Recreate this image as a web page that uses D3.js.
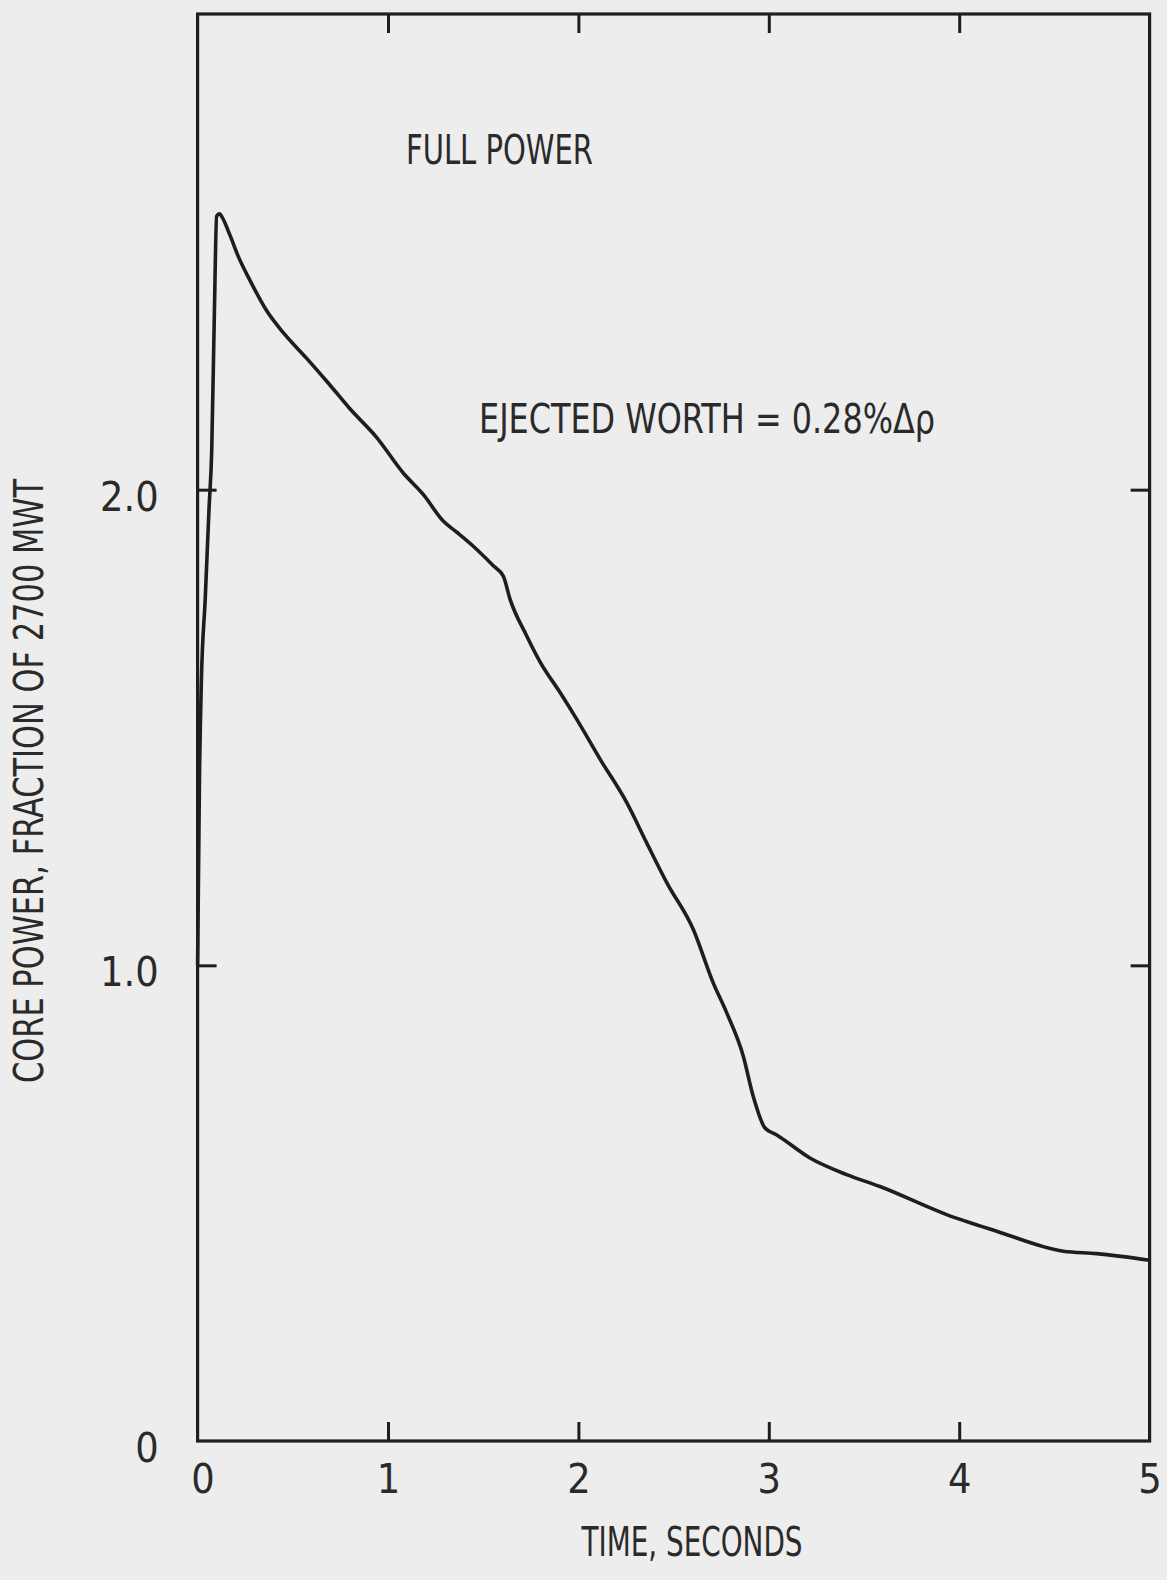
<!DOCTYPE html>
<html>
<head>
<meta charset="utf-8">
<script src="https://cdn.jsdelivr.net/npm/d3@7"></script>
<style>
    html, body { margin: 0; padding: 0; background: #ededed; }
    svg { display: block; }
    text { font-family: "DejaVu Sans Condensed", "DejaVu Sans", sans-serif; font-stretch: condensed; fill: #2a2a2a; }
</style>
</head>
<body>
<svg width="1167" height="1580"></svg>
<script>
// Данные кривой: время, с и мощность активной зоны (доля от 2700 МВт)
const timeSec = [0, 0.01, 0.02, 0.04, 0.06, 0.074, 0.088, 0.1, 0.115, 0.13, 0.17, 0.214, 0.275, 0.363, 0.45,
                 0.573, 0.695, 0.80, 0.94, 1.08, 1.185, 1.29, 1.36, 1.448, 1.553, 1.606, 1.64, 1.728, 1.80,
                 1.903, 1.99, 2.113, 2.254, 2.358, 2.464, 2.603, 2.708, 2.779, 2.866, 2.918, 2.98, 3.04,
                 3.216, 3.409, 3.584, 3.934, 4.197, 4.547, 4.722, 5.0];
const corePower = [1.0, 1.4, 1.6, 1.77, 1.96, 2.08, 2.37, 2.575, 2.58, 2.572, 2.535, 2.49, 2.44, 2.376, 2.33,
                   2.276, 2.22, 2.17, 2.11, 2.035, 1.99, 1.934, 1.911, 1.881, 1.84, 1.818, 1.771, 1.693, 1.637,
                   1.574, 1.518, 1.434, 1.342, 1.258, 1.174, 1.076, 0.963, 0.9, 0.809, 0.725, 0.658, 0.644,
                   0.595, 0.56, 0.535, 0.476, 0.441, 0.399, 0.394, 0.38];

// Подписи осей
const xTickLabels = [0, 1, 2, 3, 4, 5];
const yTickLabels = [0, 1, 2];
const xTickMarks = [1, 2, 3, 4];
const yTickMarks = [1, 2];

const svg = d3.select("svg");

const attr_area = { left: 197.6, right: 1149.6, top: 14, bottom: 1441 };

// Шкалы
const scaleX = d3.scaleLinear().domain([0, 5]).range([attr_area.left, attr_area.right]);
const scaleY = d3.scaleLinear().domain([0, 3]).range([attr_area.bottom, attr_area.top]);

const ink = "#1e1e1e";
const tickLen = 19;

// Подписи делений снизу
svg.append("g")
    .attr("transform", `translate(0, ${attr_area.bottom})`)
    .call(d3.axisBottom(scaleX).tickValues(xTickLabels).tickSize(0).tickPadding(23).tickFormat(d3.format("d")))
    .call(g => g.select(".domain").remove())
    .selectAll("text")
    .attr("font-size", 41)
    .attr("dx", d => d === 0 ? 5 : 0)
    .attr("fill", "#2a2a2a");

// Подписи делений слева
svg.append("g")
    .attr("transform", `translate(${attr_area.left}, 0)`)
    .call(d3.axisLeft(scaleY).tickValues(yTickLabels).tickSize(0).tickPadding(39)
        .tickFormat(d => d === 0 ? "0" : d3.format(".1f")(d)))
    .call(g => g.select(".domain").remove())
    .selectAll("text")
    .attr("font-size", 41)
    .attr("dy", "0.5em")
    .attr("fill", "#2a2a2a");

svg.selectAll("g").attr("font-family", null);

// Засечки внутрь рамки со всех четырёх сторон
function innerTicks(axis, transform) {
    svg.append("g")
        .attr("transform", transform)
        .call(axis.tickSize(-tickLen).tickFormat(""))
        .call(g => g.select(".domain").remove())
        .selectAll("line")
        .attr("stroke", ink)
        .attr("stroke-width", 3);
}
innerTicks(d3.axisBottom(scaleX).tickValues(xTickMarks), `translate(0, ${attr_area.bottom})`);
innerTicks(d3.axisTop(scaleX).tickValues(xTickMarks), `translate(0, ${attr_area.top})`);
innerTicks(d3.axisLeft(scaleY).tickValues(yTickMarks), `translate(${attr_area.left}, 0)`);
innerTicks(d3.axisRight(scaleY).tickValues(yTickMarks), `translate(${attr_area.right}, 0)`);

// Рамка графика
svg.append("rect")
    .attr("x", scaleX(0))
    .attr("y", scaleY(3))
    .attr("width", scaleX(5) - scaleX(0))
    .attr("height", scaleY(0) - scaleY(3))
    .attr("fill", "none")
    .attr("stroke", ink)
    .attr("stroke-width", 3.2);

// Кривая мощности
const points = timeSec.map((t, i) => ({ t: t, p: corePower[i] }));
const lineGenerator = d3.line()
    .x(d => scaleX(d.t))
    .y(d => scaleY(d.p))
    .curve(d3.curveMonotoneX);

svg.append("path")
    .datum(points)
    .attr("fill", "none")
    .attr("stroke", ink)
    .attr("stroke-width", 3.6)
    .attr("stroke-linejoin", "round")
    .attr("d", lineGenerator);

// Надписи
svg.append("text")
    .attr("x", 406).attr("y", 164)
    .attr("font-size", 41)
    .attr("textLength", 187).attr("lengthAdjust", "spacingAndGlyphs")
    .text("FULL POWER");

svg.append("text")
    .attr("x", 479).attr("y", 433)
    .attr("font-size", 41)
    .attr("textLength", 456).attr("lengthAdjust", "spacingAndGlyphs")
    .text("EJECTED WORTH = 0.28%Δρ");

svg.append("text")
    .attr("x", 692).attr("y", 1556)
    .attr("text-anchor", "middle")
    .attr("font-size", 41)
    .attr("textLength", 221).attr("lengthAdjust", "spacingAndGlyphs")
    .text("TIME, SECONDS");

svg.append("text")
    .attr("transform", "translate(43, 781) rotate(-90)")
    .attr("text-anchor", "middle")
    .attr("font-size", 41)
    .attr("textLength", 604).attr("lengthAdjust", "spacingAndGlyphs")
    .text("CORE POWER, FRACTION OF 2700 MWT");
</script>
</body>
</html>
